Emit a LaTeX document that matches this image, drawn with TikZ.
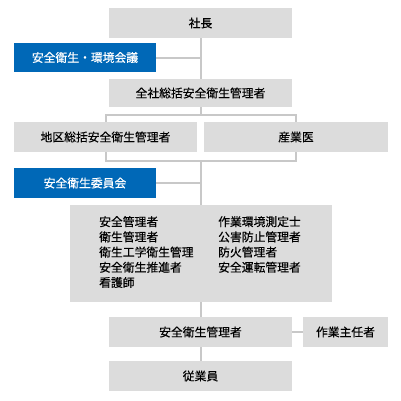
\documentclass[tikz,border=0pt]{standalone}
\usepackage{fontspec}
\setmainfont{Noto Sans CJK JP}[FakeBold=0.4]
\usepackage{xcolor}
\usepackage{tikz}
\usetikzlibrary{
    positioning
}
\definecolor{boxgray}{HTML}{DCDCDC}
\definecolor{boxblue}{HTML}{0068B7}
\definecolor{linegray}{HTML}{C8C8C8}

\begin{document}
\begin{tikzpicture}[x=1pt,y=-1pt,font=\fontsize{11.8}{15.2}\selectfont]
    \tikzstyle{grey box}=[fill=boxgray, inner sep=0pt, minimum height=30pt, minimum width=183pt]
    \tikzstyle{blue box}=[fill=boxblue, text=white, inner sep=0pt, minimum height=30pt, minimum width=142pt]
    \tikzstyle{link}=[draw=linegray, line width=2pt]
    \useasboundingbox (0,0) rectangle (401,400);
    \node[grey box] (ceo) at (200.5, 23){社長};
    \node[blue box, minimum height=29pt] (council) at (85, 57.5){安全衛生・環境会議};
    \node[grey box, minimum height=28pt] (gm) at (200.5, 93){全社総括安全衛生管理者};
    \node[grey box] (area) at (105.5, 137){地区総括安全衛生管理者};
    \node[grey box, minimum width=184pt] (doc) at (296, 137){産業医};
    \node[blue box] (comm) at (85, 183){安全衛生委員会};
    \node[grey box, minimum width=262pt, minimum height=97pt] (staff) at (200.5, 253.5){};
    \node[inner sep=0pt, align=left, anchor=north west] (list1) at (99, 216){安全管理者\\衛生管理者\\衛生工学衛生管理\\安全衛生推進者\\看護師};
    \node[inner sep=0pt, align=left, anchor=north west] (list2) at (218, 216){作業環境測定士\\公害防止管理者\\防火管理者\\安全運転管理者};
    \node[grey box] (mgr) at (200.5, 332){安全衛生管理者};
    \node[grey box, minimum width=85pt] (chief) at (345.5, 332){作業主任者};
    \node[grey box] (emp) at (200.5, 376){従業員};
    \coordinate (split) at (200.5, 115);
    \coordinate (merge) at (200.5, 161);
    \draw[link] (ceo.south) -- (gm.north);
    \draw[link] (council.east) -- (council.east -| ceo.south);
    \draw[link] (gm.south) -- (split);
    \draw[link] (area.north) |- (split) -| (doc.north);
    \draw[link] (area.south) |- (merge) -| (doc.south);
    \draw[link] (merge) -- (staff.north);
    \draw[link] (comm.east) -- (comm.east -| merge);
    \draw[link] (staff.south) -- (mgr.north);
    \draw[link] (mgr.east) -- (chief.west);
    \draw[link] (mgr.south) -- (emp.north);
\end{tikzpicture}
\end{document}
